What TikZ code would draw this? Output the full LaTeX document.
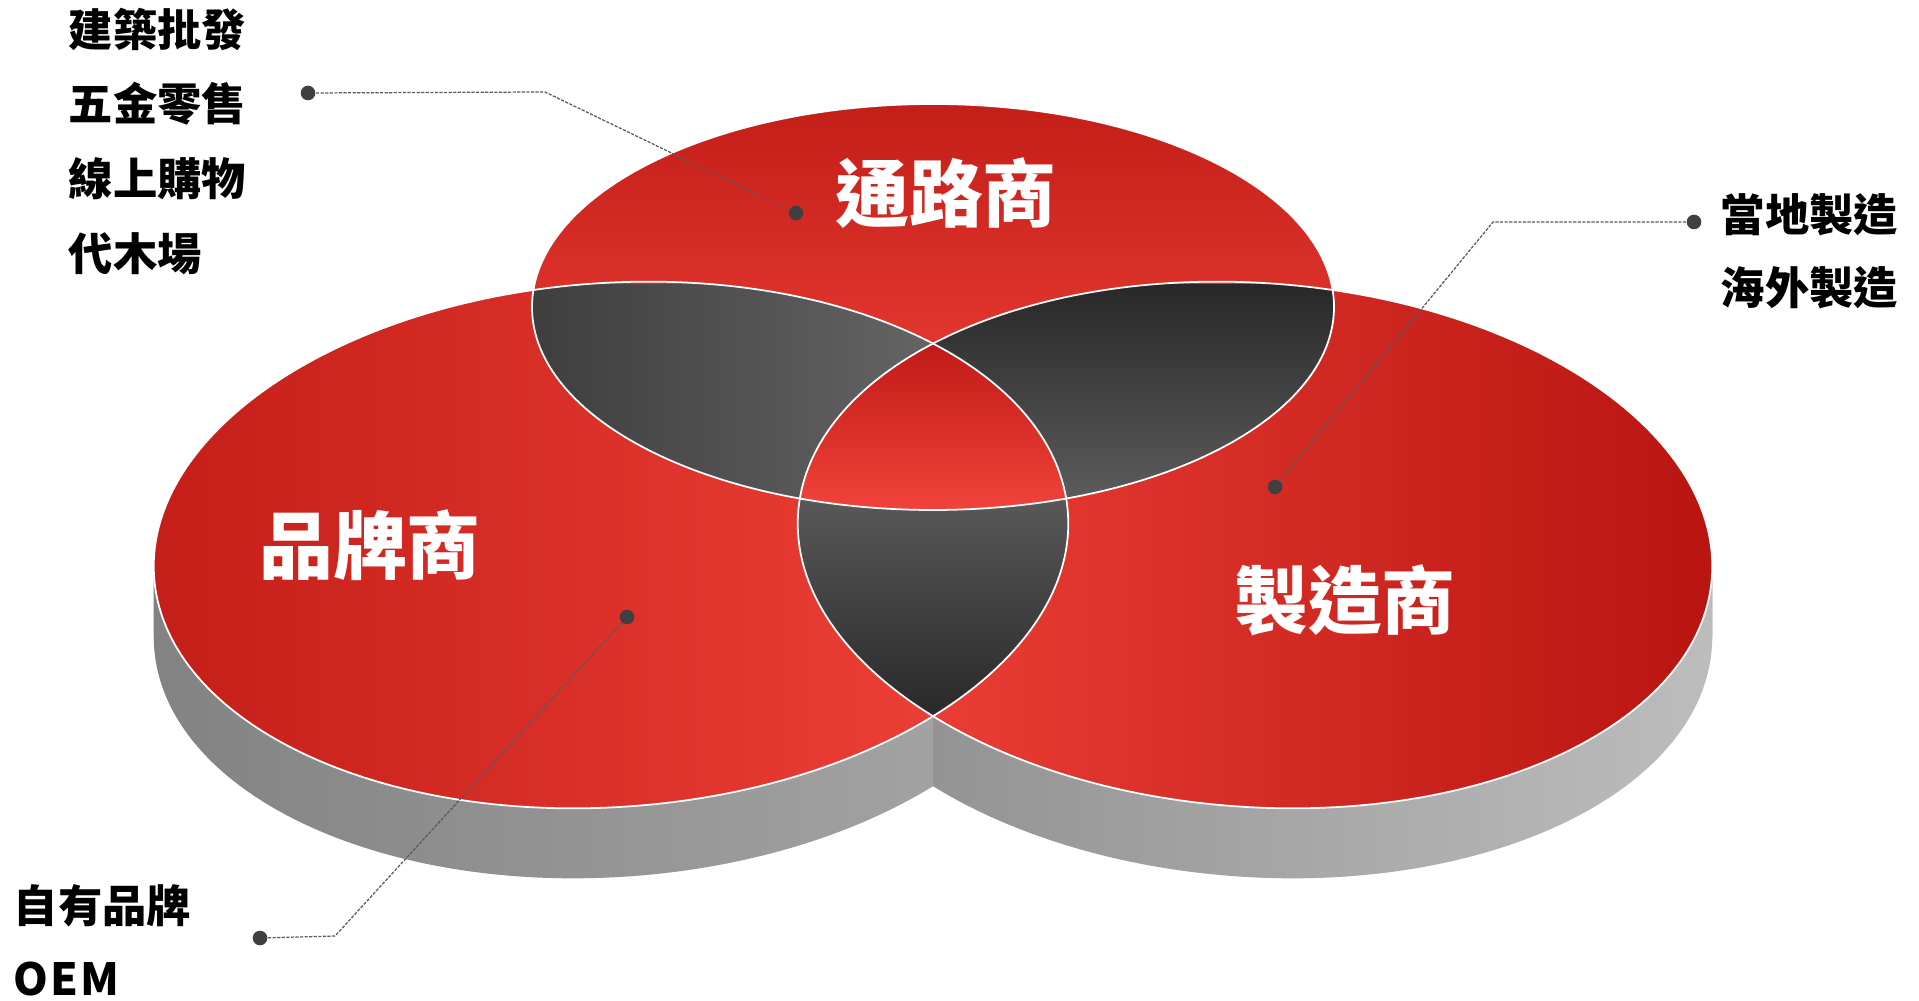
\documentclass[tikz,border=0pt]{standalone}
\usepackage{fontspec}
\newfontfamily\cjk{Noto Sans CJK TC}
\definecolor{leftDark}{HTML}{C41E18}
\definecolor{faceBright}{HTML}{F2443B}
\definecolor{rightDark}{HTML}{B81410}
\definecolor{topDark}{HTML}{C41E18}
\definecolor{topBright}{HTML}{F5473E}
\definecolor{midDark}{HTML}{BF1816}
\definecolor{lensDark}{HTML}{282828}
\definecolor{lensLight}{HTML}{656565}
\definecolor{sideA}{HTML}{828282}
\definecolor{sideB}{HTML}{B0B0B0}
\definecolor{sideC}{HTML}{A8A8A8}
\definecolor{sideD}{HTML}{8C8C8C}
\definecolor{sideE}{HTML}{BDBDBD}
\definecolor{dotc}{HTML}{404040}
\definecolor{linec}{HTML}{5A5A5A}
\begin{document}
\begin{tikzpicture}[x=0.01cm,y=0.01cm,
  lab/.style={font=\cjk\bfseries\fontsize{12.6pt}{15pt}\selectfont, anchor=west, inner sep=0pt, text=black},
  big/.style={font=\cjk\bfseries\fontsize{21pt}{24pt}\selectfont, text=white, inner sep=0pt},
  dotn/.style={circle, fill=dotc, inner sep=0pt, minimum size=1.46mm},
  conn/.style={draw=linec, line width=0.35pt, dash pattern=on 0.9pt off 0.4pt},
  wline/.style={draw=white, line width=0.5pt}]
\useasboundingbox (0,0) rectangle (1919,1000);
\fill[white] (0,0) rectangle (1919,1000);

% --- gray sides (extrusion) ---
\foreach \s in {0,5,...,70} {
  \shade[rotate around={4:(611,{455-\s})}, left color=sideA, middle color=sideB, right color=sideC]
    (611,{455-\s}) ellipse [x radius=458, y radius=262];
}
\begin{scope}
  \clip (933,0) rectangle (1919,1000);
  \foreach \s in {0,5,...,70} {
    \shade[rotate around={-4:(1255,{455-\s})}, left color=sideD, middle color=sideB, right color=sideE]
      (1255,{455-\s}) ellipse [x radius=458, y radius=262];
  }
\end{scope}

% --- red top faces ---
\shade[rotate around={4:(611,455)}, left color=leftDark, right color=faceBright]
  (611,455) ellipse [x radius=458, y radius=262];
\shade[rotate around={-4:(1255,455)}, left color=faceBright, right color=rightDark]
  (1255,455) ellipse [x radius=458, y radius=262];
\shade[top color=topDark, bottom color=topBright]
  (933,693) ellipse [x radius=401, y radius=203];

% --- lower dark lens: left & right ---
\begin{scope}
  \clip[rotate around={4:(611,455)}] (611,455) ellipse [x radius=458, y radius=262];
  \clip[rotate around={-4:(1255,455)}] (1255,455) ellipse [x radius=458, y radius=262];
  \shade[top color=lensLight!92!black, bottom color=lensDark] (790,280) rectangle (1075,520);
\end{scope}
% --- upper-left dark lens: top & left ---
\begin{scope}
  \clip (933,693) ellipse [x radius=401, y radius=203];
  \clip[rotate around={4:(611,455)}] (611,455) ellipse [x radius=458, y radius=262];
  \shade[left color=lensDark!90!white, right color=lensLight] (525,495) rectangle (940,715);
\end{scope}
% --- upper-right dark lens: top & right ---
\begin{scope}
  \clip (933,693) ellipse [x radius=401, y radius=203];
  \clip[rotate around={-4:(1255,455)}] (1255,455) ellipse [x radius=458, y radius=262];
  \shade[top color=lensDark, bottom color=lensLight!92!black] (925,495) rectangle (1340,715);
\end{scope}
% --- central red lens ---
\begin{scope}
  \clip (933,693) ellipse [x radius=401, y radius=203];
  \clip[rotate around={4:(611,455)}] (611,455) ellipse [x radius=458, y radius=262];
  \clip[rotate around={-4:(1255,455)}] (1255,455) ellipse [x radius=458, y radius=262];
  \shade[top color=midDark, bottom color=faceBright] (790,485) rectangle (1075,665);
\end{scope}

% --- white outlines ---
\draw[wline] (933,693) ellipse [x radius=401, y radius=203];
\draw[wline, rotate around={4:(611,455)}] (611,455) ellipse [x radius=458, y radius=262];
\draw[wline, rotate around={-4:(1255,455)}] (1255,455) ellipse [x radius=458, y radius=262];

% --- big labels ---
\node[big] (tl) at (946,807) {通路商};
\node[big] (bl) at (370,455) {品牌商};
\node[big] (ml) at (1345,400) {製造商};

% --- side labels ---
\node[lab] (a1) at (68,971) {建築批發};
\node[lab] (a2) at (68,896) {五金零售};
\node[lab] (a3) at (68,821) {線上購物};
\node[lab] (a4) at (68,746) {代木場};
\node[lab] (b1) at (1720,785) {當地製造};
\node[lab] (b2) at (1720,712) {海外製造};
\node[lab] (c1l) at (13,94) {自有品牌};
\node[lab, font=\cjk\bfseries\fontsize{12.6pt}{15pt}\selectfont\addfontfeature{LetterSpace=5}] (c2l) at (13,21) {OEM};

% --- connectors ---
\node[dotn] (d1) at (308,907) {};
\node[dotn] (e1) at (796,787) {};
\coordinate (k1) at (545,908);
\draw[conn] (d1) -- (k1) -- (e1);

\node[dotn] (d2) at (1694,778) {};
\node[dotn] (e2) at (1275,513) {};
\coordinate (k2) at (1493,778);
\draw[conn] (d2) -- (k2) -- (e2);

\node[dotn] (d3) at (260,62) {};
\node[dotn] (e3) at (627,383) {};
\coordinate (k3) at (335,64);
\draw[conn] (d3) -- (k3) -- (e3);
\end{tikzpicture}
\end{document}
